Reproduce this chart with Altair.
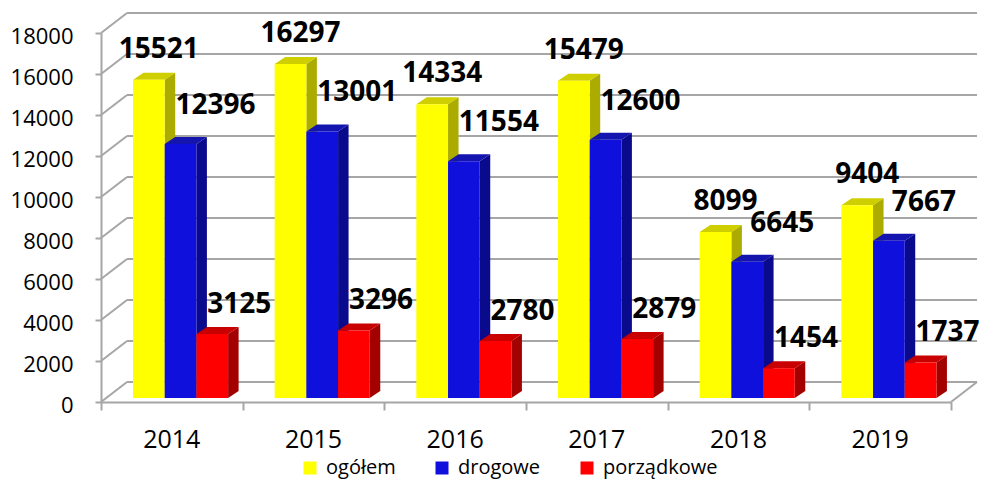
import altair as alt
import pandas as pd

# ---- data ----
years = ["2014", "2015", "2016", "2017", "2018", "2019"]
series = ["ogółem", "drogowe", "porządkowe"]
ogolem = [15521, 16297, 14334, 15479, 8099, 9404]
drogowe = [12396, 13001, 11554, 12600, 6645, 7667]
porzadkowe = [3125, 3296, 2780, 2879, 1454, 1737]
y_ticks = [0, 2000, 4000, 6000, 8000, 10000, 12000, 14000, 16000, 18000]

# ---- styles ----
front_colors = ["#FFFF00", "#1010DC", "#FF0000"]
side_colors = ["#ABAB00", "#0A0A8C", "#A30000"]
top_colors = ["#CFCF00", "#1414AE", "#C80000"]
GRID = "#A6A6A6"
FONT = "Open Sans"

W, H = 850, 369
YMAX = 18000
NCAT = len(years)
UX = NCAT / W          # x units per pixel
UY = YMAX / H          # value units per pixel
WALL_DX, WALL_DY = 26 * UX, 20 * UY
BAR_X0 = 32 * UX
BAR_W = 31.7 * UX
BASE = 4 * UY
BAR_DX, BAR_DY = 10.5 * UX, 7 * UY
LABEL_OFF = [(10, 30), (35, 38), (27, 29)]  # pixel offsets per series

values = [ogolem, drogowe, porzadkowe]

front, side, topf, labels = [], [], [], []
for i, yr in enumerate(years):
    for j, s in enumerate(series):
        v = values[j][i]
        xl = i + BAR_X0 + j * BAR_W
        xr = xl + BAR_W
        bot = BASE
        top = BASE + v
        key = f"{yr}-{j}"
        front.append(dict(xl=xl, xr=xr, bot=bot, top=top, series=s))
        side.append(dict(x=xr, y=top, y2=bot, key=key, c=side_colors[j]))
        side.append(dict(x=xr + BAR_DX, y=top + BAR_DY, y2=bot + BAR_DY, key=key, c=side_colors[j]))
        topf.append(dict(y=top, x=xl, x2=xr, key=key, c=top_colors[j]))
        topf.append(dict(y=top + BAR_DY, x=xl + BAR_DX, x2=xr + BAR_DX, key=key, c=top_colors[j]))
        dx, dy = LABEL_OFF[j]
        labels.append(dict(x=(xl + xr) / 2 + dx * UX, y=top + dy * UY, t=str(v)))

front_df = pd.DataFrame(front)
side_df = pd.DataFrame(side)
top_df = pd.DataFrame(topf)
label_df = pd.DataFrame(labels)
year_df = pd.DataFrame({"x": [i + 0.5 for i in range(NCAT)], "y": [0] * NCAT, "year": years})
tick_df = pd.DataFrame({"v": y_ticks})
tick_df["x0"] = 0.0
tick_df["x1"] = WALL_DX
tick_df["xe"] = NCAT + WALL_DX
tick_df["vb"] = tick_df["v"] + WALL_DY
floor_df = pd.DataFrame({"x": [NCAT], "y": [0], "x2": [NCAT + WALL_DX], "y2": [WALL_DY]})

xs = alt.Scale(domain=[0, NCAT], nice=False, zero=False)
ys = alt.Scale(domain=[0, YMAX], nice=False)

x_axis = alt.Axis(
    values=list(range(NCAT + 1)),
    labels=False,
    title=None,
    grid=False,
    tickSize=8,
    tickColor=GRID,
    tickWidth=2,
    domainColor=GRID,
    domainWidth=2,
)
y_axis = alt.Axis(
    values=y_ticks,
    format="d",
    title=None,
    grid=False,
    tickSize=6,
    tickColor=GRID,
    tickWidth=2,
    domainColor=GRID,
    domainWidth=2,
    labelFont=FONT,
    labelFontSize=22,
    labelColor="#000000",
    labelPadding=22,
    labelOffset=3,
)

# left wall diagonals (carries the axes)
side_grid = alt.Chart(tick_df).mark_rule(color=GRID, strokeWidth=2).encode(
    x=alt.X("x0:Q", scale=xs, axis=x_axis),
    x2="x1:Q",
    y=alt.Y("v:Q", scale=ys, axis=y_axis),
    y2="vb:Q",
)
# back wall gridlines
back_grid = alt.Chart(tick_df).mark_rule(color=GRID, strokeWidth=2).encode(
    x=alt.X("x1:Q", scale=xs),
    x2="xe:Q",
    y=alt.Y("vb:Q", scale=ys),
)
floor_edge = alt.Chart(floor_df).mark_rule(color=GRID, strokeWidth=2).encode(
    x=alt.X("x:Q", scale=xs),
    x2="x2:Q",
    y=alt.Y("y:Q", scale=ys),
    y2="y2:Q",
)

side_layer = alt.Chart(side_df).mark_area(interpolate="linear").encode(
    x=alt.X("x:Q", scale=xs),
    y=alt.Y("y:Q", scale=ys),
    y2="y2:Q",
    detail="key:N",
    color=alt.Color("c:N", scale=None),
)
top_layer = alt.Chart(top_df).mark_area(orient="horizontal", interpolate="linear").encode(
    y=alt.Y("y:Q", scale=ys),
    x=alt.X("x:Q", scale=xs),
    x2="x2:Q",
    detail="key:N",
    color=alt.Color("c:N", scale=None),
)
front_layer = alt.Chart(front_df).mark_rect().encode(
    x=alt.X("xl:Q", scale=xs),
    x2="xr:Q",
    y=alt.Y("bot:Q", scale=ys),
    y2="top:Q",
    color=alt.Color(
        "series:N",
        scale=alt.Scale(domain=series, range=front_colors),
        sort=series,
        legend=alt.Legend(
            orient="none",
            direction="horizontal",
            legendX=199,
            legendY=425,
            title=None,
            symbolType="square",
            symbolSize=169,
            symbolStrokeWidth=0,
            symbolOpacity=1,
            labelFont=FONT,
            labelFontSize=20,
            labelColor="#000000",
            labelOffset=6,
            columnPadding=36,
            padding=0,
        ),
    ),
)
label_layer = alt.Chart(label_df).mark_text(
    font=FONT, fontSize=28, fontWeight="bold", color="#000000", baseline="middle", align="center"
).encode(
    x=alt.X("x:Q", scale=xs),
    y=alt.Y("y:Q", scale=ys),
    text="t:N",
)
year_layer = alt.Chart(year_df).mark_text(
    font=FONT, fontSize=25, color="#000000", baseline="middle", align="center", dy=38
).encode(
    x=alt.X("x:Q", scale=xs),
    y=alt.Y("y:Q", scale=ys),
    text="year:N",
)

chart = alt.layer(
    side_grid, back_grid, floor_edge, side_layer, top_layer, front_layer, label_layer, year_layer
).properties(
    width=W,
    height=H,
    autosize=alt.AutoSizeParams(type="none"),
    padding={"left": 93, "top": 25, "right": 28, "bottom": 80},
).configure_view(stroke=None)

chart.save("out.html", embed_options={"renderer": "svg", "actions": False})
